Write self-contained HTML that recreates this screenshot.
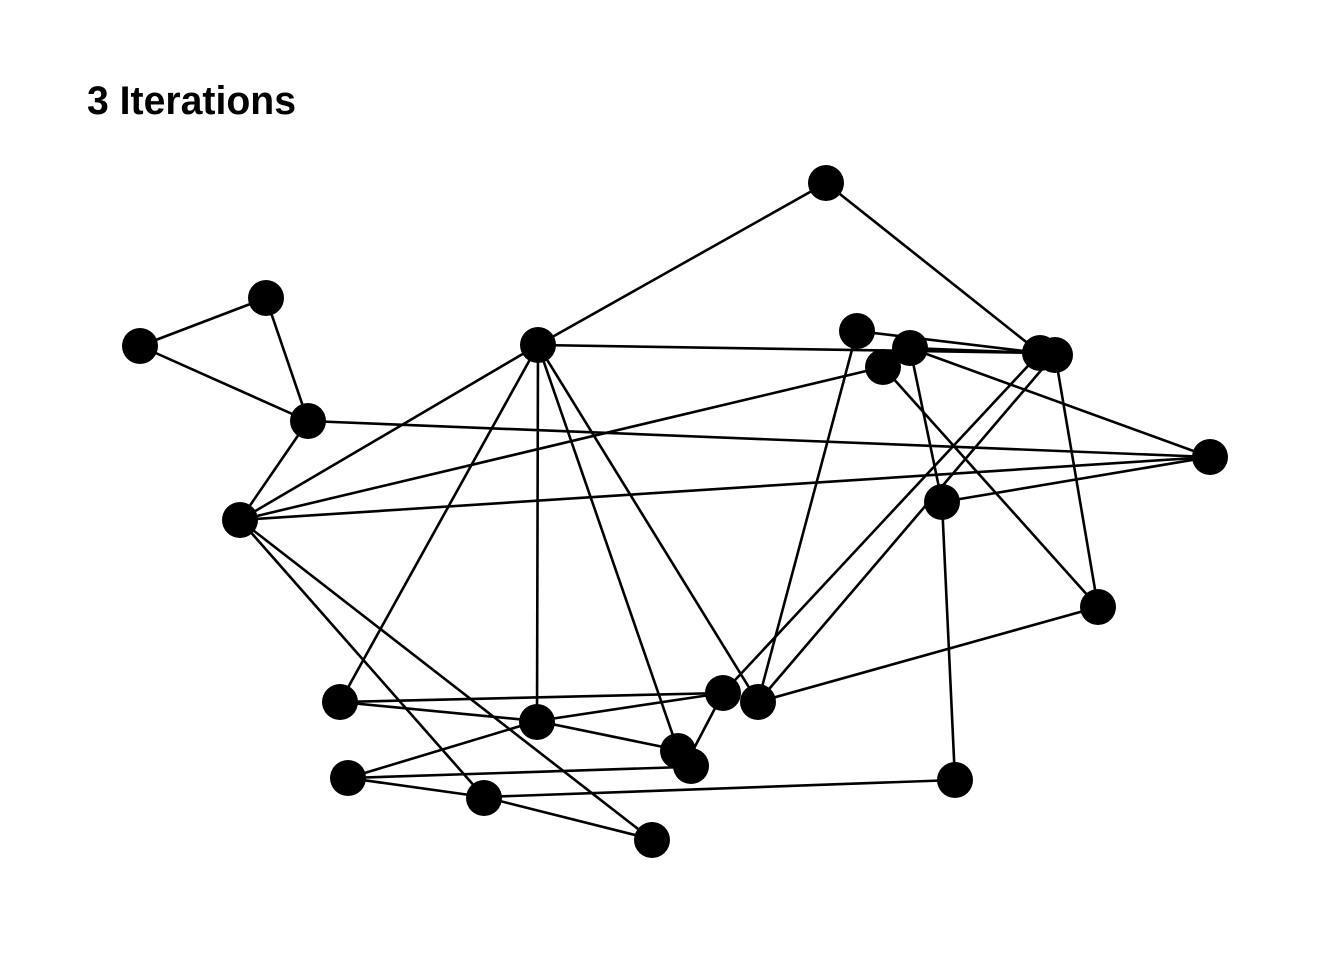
<!DOCTYPE html>
<html><head><style>body{margin:0;background:#fff}</style></head><body>
<svg width="1344" height="960" xmlns="http://www.w3.org/2000/svg">
<rect width="1344" height="960" fill="#fff"/>
<text x="87" y="114" font-family="Liberation Sans, sans-serif" font-weight="bold" font-size="40" textLength="209" lengthAdjust="spacingAndGlyphs">3 Iterations</text>
<g stroke="#000" stroke-width="2.6">
<line x1="826" y1="183" x2="538" y2="345"/>
<line x1="826" y1="183" x2="1040" y2="353"/>
<line x1="140" y1="346" x2="266" y2="298"/>
<line x1="140" y1="346" x2="308" y2="421"/>
<line x1="266" y1="298" x2="308" y2="421"/>
<line x1="538" y1="345" x2="1040" y2="353"/>
<line x1="308" y1="421" x2="240" y2="520"/>
<line x1="308" y1="421" x2="1210" y2="457"/>
<line x1="240" y1="520" x2="538" y2="345"/>
<line x1="240" y1="520" x2="883" y2="367"/>
<line x1="240" y1="520" x2="1210" y2="457"/>
<line x1="240" y1="520" x2="484" y2="797"/>
<line x1="240" y1="520" x2="651" y2="839"/>
<line x1="538" y1="345" x2="340" y2="702"/>
<line x1="538" y1="345" x2="537" y2="721"/>
<line x1="538" y1="345" x2="678" y2="750"/>
<line x1="538" y1="345" x2="758" y2="702"/>
<line x1="857" y1="331" x2="1040" y2="353"/>
<line x1="857" y1="331" x2="758" y2="702"/>
<line x1="910" y1="348" x2="1210" y2="457"/>
<line x1="910" y1="348" x2="1040" y2="353"/>
<line x1="910" y1="348" x2="942" y2="502"/>
<line x1="883" y1="367" x2="1098" y2="607"/>
<line x1="1040" y1="353" x2="723" y2="693"/>
<line x1="1055" y1="354" x2="758" y2="702"/>
<line x1="1055" y1="354" x2="1098" y2="607"/>
<line x1="942" y1="502" x2="1210" y2="457"/>
<line x1="942" y1="502" x2="955" y2="780"/>
<line x1="1098" y1="607" x2="758" y2="702"/>
<line x1="340" y1="702" x2="723" y2="693"/>
<line x1="340" y1="702" x2="537" y2="721"/>
<line x1="537" y1="721" x2="678" y2="750"/>
<line x1="537" y1="721" x2="723" y2="693"/>
<line x1="537" y1="721" x2="348" y2="778"/>
<line x1="723" y1="693" x2="690" y2="756"/>
<line x1="348" y1="778" x2="685" y2="767"/>
<line x1="348" y1="778" x2="484" y2="797"/>
<line x1="484" y1="797" x2="955" y2="780"/>
<line x1="484" y1="797" x2="651" y2="839"/>
</g>
<g fill="#000">
<circle cx="826" cy="183" r="18"/><circle cx="266" cy="298" r="18"/><circle cx="140" cy="346" r="18"/>
<circle cx="538" cy="345" r="18"/><circle cx="857" cy="331" r="18"/><circle cx="910" cy="348" r="18"/>
<circle cx="883" cy="367" r="18"/><circle cx="1040" cy="353" r="18"/><circle cx="1055" cy="355" r="18"/>
<circle cx="308" cy="421" r="18"/><circle cx="1210" cy="457" r="18"/><circle cx="240" cy="520" r="18"/>
<circle cx="942" cy="502" r="18"/><circle cx="1098" cy="607" r="18"/><circle cx="340" cy="702" r="18"/>
<circle cx="723" cy="693" r="18"/><circle cx="758" cy="702" r="18"/><circle cx="537" cy="722" r="18"/>
<circle cx="678" cy="751" r="18"/><circle cx="691" cy="766" r="18"/><circle cx="348" cy="778" r="18"/>
<circle cx="955" cy="780" r="18"/><circle cx="484" cy="798" r="18"/><circle cx="652" cy="840" r="18"/>
</g>
</svg>
</body></html>
